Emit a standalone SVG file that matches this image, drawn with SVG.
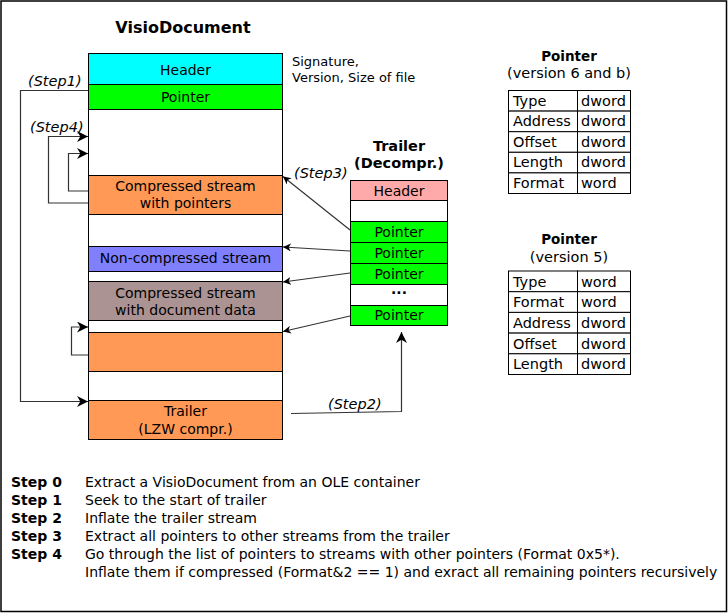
<svg xmlns="http://www.w3.org/2000/svg" width="728" height="613" viewBox="0 0 728 613">
<defs>
<style>
.t{font-family:"DejaVu Sans",Verdana,sans-serif;font-size:14px;fill:#000;text-anchor:middle}
.b{font-weight:bold}
.l{text-anchor:start}
.tb{font-size:14.5px}
.it{font-family:"DejaVu Sans",Verdana,sans-serif;font-size:14.5px;font-style:italic;fill:#000}
.box{stroke:#000;stroke-width:1}
.c{fill:none;stroke:#333;stroke-width:1.2}
.s{font-family:"DejaVu Sans",Verdana,sans-serif;font-size:14px;fill:#000}
</style>
<marker id="ah" viewBox="0 0 10 10" refX="10" refY="5" markerWidth="8" markerHeight="8" markerUnits="userSpaceOnUse" orient="auto"><path d="M0,0 L10,5 L0,10 L3,5 z" fill="#000"/></marker>
<marker id="ab" viewBox="0 0 10 10" refX="10" refY="5" markerWidth="11" markerHeight="11" markerUnits="userSpaceOnUse" orient="auto"><path d="M0,0 L10,5 L0,10 L3,5 z" fill="#000"/></marker>
</defs>
<rect x="1" y="1" width="725.5" height="610.5" fill="#fff" stroke="#000" stroke-width="1.5"/>

<g id="visio-document">
<text class="t b" x="183" y="33" style="font-size:16px">VisioDocument</text>
<rect class="box" x="88.5" y="53.5" width="194" height="31" fill="#00ffff"/>
<text class="t" x="185.5" y="75">Header</text>
<rect class="box" x="88.5" y="84.5" width="194" height="25" fill="#00ff00"/>
<text class="t" x="185.5" y="102">Pointer</text>
<rect class="box" x="88.5" y="109.5" width="194" height="66" fill="#fff"/>
<rect class="box" x="88.5" y="175.5" width="194" height="39" fill="#ff9955"/>
<text class="t" x="185.5" y="191">Compressed stream</text>
<text class="t" x="185.5" y="208">with pointers</text>
<rect class="box" x="88.5" y="214.5" width="194" height="32" fill="#fff"/>
<rect class="box" x="88.5" y="246.5" width="194" height="25" fill="#8080ff"/>
<text class="t" x="185.5" y="263">Non-compressed stream</text>
<rect class="box" x="88.5" y="271.5" width="194" height="10" fill="#fff"/>
<rect class="box" x="88.5" y="281.5" width="194" height="39" fill="#ac9393"/>
<text class="t" x="185.5" y="298">Compressed stream</text>
<text class="t" x="185.5" y="315">with document data</text>
<rect class="box" x="88.5" y="320.5" width="194" height="12" fill="#fff"/>
<rect class="box" x="88.5" y="332.5" width="194" height="39" fill="#ff9955"/>
<rect class="box" x="88.5" y="371.5" width="194" height="29" fill="#fff"/>
<rect class="box" x="88.5" y="400.5" width="194" height="39" fill="#ff9955"/>
<text class="t" x="185.5" y="416">Trailer</text>
<text class="t" x="185.5" y="434">(LZW compr.)</text>
<text class="t l" x="292" y="66" style="font-size:13px">Signature,</text>
<text class="t l" x="292" y="82" style="font-size:13px">Version, Size of file</text>
</g>

<g id="trailer-decompressed">
<text class="t b" x="399" y="151" style="font-size:14.5px">Trailer</text>
<text class="t b" x="399" y="168" style="font-size:14.5px">(Decompr.)</text>
<rect class="box" x="350.5" y="180.5" width="97" height="20" fill="#ffaaaa"/>
<text class="t" x="399" y="196">Header</text>
<rect class="box" x="350.5" y="200.5" width="97" height="21" fill="#fff"/>
<rect class="box" x="350.5" y="221.5" width="97" height="21" fill="#00ff00"/>
<text class="t" x="399" y="237">Pointer</text>
<rect class="box" x="350.5" y="242.5" width="97" height="21" fill="#00ff00"/>
<text class="t" x="399" y="258">Pointer</text>
<rect class="box" x="350.5" y="263.5" width="97" height="21" fill="#00ff00"/>
<text class="t" x="399" y="279">Pointer</text>
<rect class="box" x="350.5" y="284.5" width="97" height="21" fill="#fff"/>
<text class="t b" x="399" y="298">···</text>
<rect class="box" x="350.5" y="305.5" width="97" height="20" fill="#00ff00"/>
<text class="t" x="399" y="320">Pointer</text>
</g>

<g id="pointer-v6">
<text class="t b" x="569" y="61" style="font-size:13.5px">Pointer</text>
<text class="t tb" x="569" y="78">(version 6 and b)</text>
<g fill="#fff" stroke="#000" stroke-width="1">
<rect x="508.5" y="90.5" width="69" height="20.6"/><rect x="577.5" y="90.5" width="53" height="20.6"/>
<rect x="508.5" y="111.1" width="69" height="20.6"/><rect x="577.5" y="111.1" width="53" height="20.6"/>
<rect x="508.5" y="131.7" width="69" height="20.6"/><rect x="577.5" y="131.7" width="53" height="20.6"/>
<rect x="508.5" y="152.3" width="69" height="20.6"/><rect x="577.5" y="152.3" width="53" height="20.6"/>
<rect x="508.5" y="172.9" width="69" height="20.6"/><rect x="577.5" y="172.9" width="53" height="20.6"/>
</g>
<text class="t l tb" x="513" y="106">Type</text><text class="t l tb" x="581" y="106">dword</text>
<text class="t l tb" x="513" y="126">Address</text><text class="t l tb" x="581" y="126">dword</text>
<text class="t l tb" x="513" y="147">Offset</text><text class="t l tb" x="581" y="147">dword</text>
<text class="t l tb" x="513" y="167">Length</text><text class="t l tb" x="581" y="167">dword</text>
<text class="t l tb" x="513" y="188">Format</text><text class="t l tb" x="581" y="188">word</text>
</g>

<g id="pointer-v5">
<text class="t b" x="569" y="244" style="font-size:13.5px">Pointer</text>
<text class="t tb" x="569" y="262">(version 5)</text>
<g fill="#fff" stroke="#000" stroke-width="1">
<rect x="508.5" y="271" width="69" height="20.7"/><rect x="577.5" y="271" width="53" height="20.7"/>
<rect x="508.5" y="291.7" width="69" height="20.7"/><rect x="577.5" y="291.7" width="53" height="20.7"/>
<rect x="508.5" y="312.4" width="69" height="20.7"/><rect x="577.5" y="312.4" width="53" height="20.7"/>
<rect x="508.5" y="333.1" width="69" height="20.7"/><rect x="577.5" y="333.1" width="53" height="20.7"/>
<rect x="508.5" y="353.8" width="69" height="20.7"/><rect x="577.5" y="353.8" width="53" height="20.7"/>
</g>
<text class="t l tb" x="513" y="287">Type</text><text class="t l tb" x="581" y="287">word</text>
<text class="t l tb" x="513" y="307">Format</text><text class="t l tb" x="581" y="307">word</text>
<text class="t l tb" x="513" y="328">Address</text><text class="t l tb" x="581" y="328">dword</text>
<text class="t l tb" x="513" y="349">Offset</text><text class="t l tb" x="581" y="349">dword</text>
<text class="t l tb" x="513" y="369">Length</text><text class="t l tb" x="581" y="369">dword</text>
</g>

<g id="connectors">
<polyline class="c" points="88,90.5 20.5,90.5 20.5,401.5 88,401.5" marker-end="url(#ab)"/>
<polyline class="c" points="88,203 48.5,203 48.5,136.5 88,136.5" marker-end="url(#ab)"/>
<polyline class="c" points="88,191 68.5,191 68.5,153.5 88,153.5" marker-end="url(#ab)"/>
<polyline class="c" points="88,355 71.5,355 71.5,327 88,327" marker-end="url(#ab)"/>
<line class="c" stroke="#000" x1="350" y1="230" x2="283" y2="176.5" marker-end="url(#ah)"/>
<line class="c" stroke="#000" x1="350" y1="251" x2="283" y2="247" marker-end="url(#ah)"/>
<line class="c" stroke="#000" x1="350" y1="273" x2="283" y2="282" marker-end="url(#ah)"/>
<line class="c" stroke="#000" x1="350" y1="316" x2="283" y2="331.5" marker-end="url(#ah)"/>
<polyline class="c" points="291,413.5 401.5,411.5 401.5,332" marker-end="url(#ab)"/>
<text class="it" x="28" y="86">(Step1)</text>
<text class="it" x="30" y="132">(Step4)</text>
<text class="it" x="294" y="178">(Step3)</text>
<text class="it" x="328" y="409">(Step2)</text>
</g>

<g id="steps">
<text class="s" x="11" y="487" font-weight="bold">Step 0</text>
<text class="s" x="85" y="487">Extract a VisioDocument from an OLE container</text>
<text class="s" x="11" y="505" font-weight="bold">Step 1</text>
<text class="s" x="85" y="505">Seek to the start of trailer</text>
<text class="s" x="11" y="523" font-weight="bold">Step 2</text>
<text class="s" x="85" y="523">Inflate the trailer stream</text>
<text class="s" x="11" y="541" font-weight="bold">Step 3</text>
<text class="s" x="85" y="541">Extract all pointers to other streams from the trailer</text>
<text class="s" x="11" y="559" font-weight="bold">Step 4</text>
<text class="s" x="85" y="559">Go through the list of pointers to streams with other pointers (Format 0x5*).</text>
<text class="s" x="85" y="577">Inflate them if compressed (Format&amp;2 == 1) and exract all remaining pointers recursively</text>
</g>
</svg>
